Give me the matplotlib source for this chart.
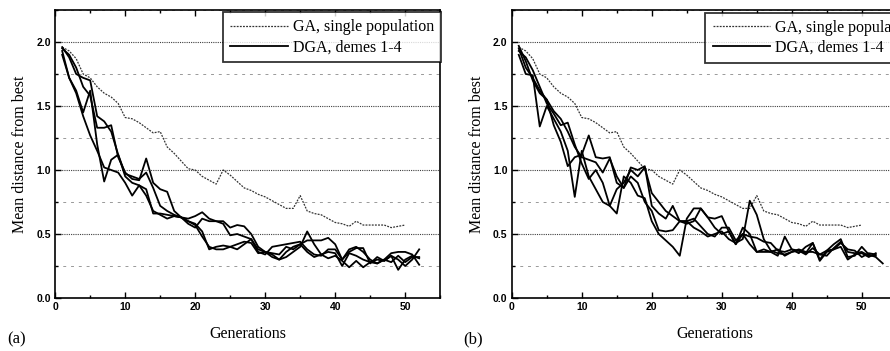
import numpy as np
import matplotlib.pyplot as plt
from matplotlib.ticker import MultipleLocator

# GA with a single population (same run in both panels), generations 1-50
ga_single = [1.96, 1.93, 1.87, 1.75, 1.72, 1.65, 1.60, 1.57, 1.52, 1.41,
             1.40, 1.37, 1.33, 1.29, 1.30, 1.18, 1.13, 1.07, 1.01, 1.00,
             0.95, 0.92, 0.89, 1.00, 0.96, 0.91, 0.86, 0.84, 0.81, 0.79,
             0.76, 0.73, 0.70, 0.70, 0.80, 0.68, 0.66, 0.65, 0.62, 0.59,
             0.58, 0.56, 0.60, 0.57, 0.57, 0.57, 0.57, 0.55, 0.56, 0.57]

# (a) DGA demes 1-4
dga_a = [
    [1.90, 1.72, 1.62, 1.45, 1.62, 1.20, 0.91, 1.08, 1.12, 0.95, 0.90, 0.88, 0.85,
     0.66, 0.66, 0.65, 0.64, 0.63, 0.60, 0.58, 0.52, 0.38, 0.40, 0.41, 0.40, 0.42,
     0.44, 0.43, 0.35, 0.36, 0.34, 0.30, 0.36, 0.40, 0.42, 0.36, 0.32, 0.34, 0.36,
     0.35, 0.25, 0.35, 0.33, 0.30, 0.28, 0.30, 0.29, 0.33, 0.30, 0.25, 0.30, 0.38],
    [1.95, 1.90, 1.80, 1.65, 1.58, 1.33, 1.33, 1.35, 1.10, 0.98, 0.93, 0.92, 1.09,
     0.90, 0.85, 0.83, 0.68, 0.63, 0.58, 0.55, 0.62, 0.60, 0.60, 0.58, 0.49, 0.50,
     0.48, 0.46, 0.36, 0.34, 0.40, 0.41, 0.42, 0.43, 0.44, 0.38, 0.34, 0.33, 0.38,
     0.38, 0.30, 0.38, 0.40, 0.36, 0.30, 0.27, 0.30, 0.35, 0.36, 0.36, 0.34, 0.26],
    [1.93, 1.72, 1.60, 1.42, 1.27, 1.15, 1.02, 1.00, 0.98, 0.90, 0.80, 0.88, 0.80,
     0.68, 0.65, 0.62, 0.64, 0.63, 0.60, 0.57, 0.48, 0.40, 0.38, 0.38, 0.40, 0.38,
     0.42, 0.46, 0.38, 0.36, 0.32, 0.30, 0.32, 0.36, 0.40, 0.52, 0.42, 0.34, 0.31,
     0.33, 0.29, 0.24, 0.29, 0.24, 0.28, 0.27, 0.30, 0.28, 0.33, 0.28, 0.32, 0.32],
    [1.96, 1.88, 1.75, 1.72, 1.70, 1.42, 1.38, 1.30, 1.12, 0.97, 0.95, 0.93, 0.98,
     0.86, 0.72, 0.68, 0.65, 0.63, 0.62, 0.64, 0.67, 0.62, 0.60, 0.60, 0.55, 0.57,
     0.56, 0.50, 0.40, 0.36, 0.35, 0.34, 0.40, 0.38, 0.42, 0.45, 0.45, 0.45, 0.47,
     0.42, 0.30, 0.36, 0.39, 0.39, 0.27, 0.32, 0.29, 0.33, 0.22, 0.30, 0.33, 0.31],
]

# (b) DGA demes 1-4
dga_b = [
    [1.90, 1.75, 1.74, 1.34, 1.50, 1.40, 1.30, 1.15, 0.79, 1.15, 0.95, 0.85, 0.75,
     0.72, 0.66, 0.95, 0.90, 0.80, 0.78, 0.60, 0.50, 0.45, 0.40, 0.33, 0.62, 0.70,
     0.70, 0.63, 0.55, 0.50, 0.52, 0.42, 0.50, 0.48, 0.47, 0.44, 0.43, 0.37, 0.36,
     0.38, 0.37, 0.35, 0.43, 0.29, 0.36, 0.38, 0.40, 0.30, 0.34, 0.35, 0.32, 0.35],
    [1.97, 1.85, 1.70, 1.60, 1.55, 1.35, 1.22, 1.03, 1.10, 1.12, 1.27, 1.10, 1.09,
     1.10, 0.90, 0.86, 1.02, 1.00, 1.03, 0.72, 0.66, 0.62, 0.72, 0.60, 0.58, 0.60,
     0.70, 0.63, 0.62, 0.64, 0.52, 0.42, 0.55, 0.50, 0.36, 0.38, 0.36, 0.33, 0.48,
     0.38, 0.35, 0.40, 0.43, 0.30, 0.37, 0.42, 0.46, 0.32, 0.33, 0.40, 0.34, 0.32, 0.27],
    [1.95, 1.80, 1.72, 1.62, 1.55, 1.46, 1.40, 1.30, 1.18, 1.10, 1.08, 1.06, 0.98,
     1.09, 0.95, 0.86, 0.95, 0.90, 0.75, 0.68, 0.53, 0.52, 0.53, 0.60, 0.60, 0.55,
     0.52, 0.48, 0.50, 0.52, 0.46, 0.43, 0.46, 0.76, 0.65, 0.46, 0.37, 0.35, 0.34,
     0.36, 0.38, 0.36, 0.36, 0.34, 0.33, 0.39, 0.44, 0.36, 0.35, 0.36, 0.33, 0.33],
    [1.93, 1.88, 1.78, 1.65, 1.52, 1.44, 1.35, 1.37, 1.20, 1.05, 0.93, 1.00, 0.90,
     0.72, 0.85, 0.90, 1.00, 0.95, 1.02, 0.82, 0.75, 0.68, 0.64, 0.60, 0.60, 0.62,
     0.56, 0.50, 0.48, 0.55, 0.55, 0.45, 0.50, 0.42, 0.36, 0.36, 0.36, 0.38, 0.33,
     0.36, 0.37, 0.34, 0.39, 0.34, 0.37, 0.38, 0.43, 0.38, 0.37, 0.32, 0.35, 0.34],
]

panels = [('(a)', dga_a), ('(b)', dga_b)]

serif = 'Liberation Serif'
fig = plt.figure(figsize=(8.9, 3.51), dpi=100)

lefts = [0.062, 0.575]
xmax = [55, 58]
widths = [0.4326, 0.4326 * 58 / 55]
leg_pos = [(0.436, 0.993), (0.477, 0.99)]
for (tag, demes), left, xm, w, lp in zip(panels, lefts, xmax, widths, leg_pos):
    ax = fig.add_axes([left, 0.151, w, 0.8205])

    # grid lines
    for y in np.arange(0.25, 2.26, 0.25):
        if abs(y % 0.5) < 1e-9:
            ax.axhline(y, color='0.25', lw=0.8, ls=(0, (1, 1)), zorder=0)
        else:
            ax.axhline(y, color='0.6', lw=0.7, ls=(0, (3, 5)), zorder=0)

    gens = np.arange(1, len(ga_single) + 1)
    ax.plot(gens, ga_single, color='0.2', lw=0.9, ls=(0, (1.5, 1)),
            label='GA, single population')
    for i, d in enumerate(demes):
        ax.plot(np.arange(1, len(d) + 1), d, color='black', lw=1.3,
                label='DGA, demes 1-4' if i == 0 else None)

    ax.set_xlim(0, xm)
    ax.set_ylim(0, 2.25)
    ax.xaxis.set_major_locator(MultipleLocator(10))
    ax.xaxis.set_minor_locator(MultipleLocator(5))
    ax.yaxis.set_major_locator(MultipleLocator(0.5))
    ax.yaxis.set_minor_locator(MultipleLocator(0.25))
    ax.yaxis.set_major_formatter(plt.FormatStrFormatter('%.1f'))
    ax.tick_params(which='both', top=True, direction='in', labelsize=7.5,
                   width=1.0, pad=3)
    ax.tick_params(which='major', length=4)
    ax.tick_params(which='minor', length=2.5)
    for lab in ax.get_xticklabels() + ax.get_yticklabels():
        lab.set_fontweight('bold')
        lab.set_family('Liberation Sans')
    for s in ax.spines.values():
        s.set_linewidth(1.2)

    ax.set_xlabel('Generations', family=serif, fontsize=11.5, labelpad=10)
    ax.set_ylabel('Mean distance from best', family=serif, fontsize=11.5,
                  labelpad=6)
    ax.text(-0.125 * 0.4326 / w, -0.115, tag, transform=ax.transAxes,
            family=serif, fontsize=12, ha='left', va='top')

    leg = ax.legend(loc='upper left', bbox_to_anchor=lp,
                    prop={'family': serif, 'size': 11.5}, frameon=True,
                    fancybox=False, borderpad=0.45, labelspacing=0.25,
                    handlelength=3.6, handletextpad=0.3, borderaxespad=0.0)
    leg.get_frame().set_edgecolor('black')
    leg.get_frame().set_linewidth(1.3)

plt.savefig('out.png', dpi=100)
